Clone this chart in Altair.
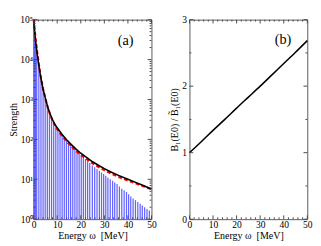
import altair as alt
import pandas as pd

# ---- data ----
bar_energy = [0.1, 0.3, 0.5, 0.7, 0.9, 1.3, 2.2, 3.1, 4.0, 4.9, 5.8, 6.7, 7.6, 8.5, 9.4,
              10.3, 11.2, 12.1, 13.0, 13.9, 14.8, 15.7, 16.6, 17.5, 18.4, 19.3, 20.2,
              21.1, 22.0, 22.9, 23.8, 24.9, 25.9, 26.9, 27.9, 28.8, 29.7, 30.6, 31.5,
              32.5, 33.5, 34.4, 35.4, 36.4, 37.4, 38.4, 39.4, 40.3, 41.2, 42.2, 43.2,
              44.2, 45.2, 46.1, 47.1, 48.1, 49.1]
bar_strength = [85000, 60000, 43000, 32000, 25000, 16000, 7000, 3300, 1750, 1080, 670, 470,
                340, 265, 215, 180, 150, 128, 112, 96, 84, 74, 65, 58, 51, 45, 40, 36, 32,
                28.5, 25.5, 22, 20, 18, 16.3, 14.8, 13.5, 12.2, 11, 10, 9.2, 8.3, 7.6, 6.6,
                5.8, 5.3, 4.8, 4.2, 3.7, 3.3, 3.0, 2.7, 2.45, 2.2, 2.0, 1.8, 1.65]

curve_energy = [0, 0.5, 1, 1.5, 2, 3, 4, 5, 6, 7, 8, 9, 10, 12, 14, 16, 18, 20, 22, 25,
                28, 30, 33, 36, 40, 43, 46, 50]
exact_strength = [100000, 45000, 24000, 14000, 8500, 3600, 1800, 1050, 640, 430, 310, 240,
                  195, 134, 98, 74, 57, 45, 37, 27.5, 21.5, 18.5, 15, 12.5, 10, 8.5, 7.2, 5.7]
approx_strength = [100000, 50000, 27000, 15500, 9300, 3800, 1850, 1050, 630, 415, 295, 225,
                   180, 122, 89, 67, 51, 40.5, 33.5, 25, 19.5, 17, 13.8, 11.5, 9.3, 8, 6.9, 5.6]

ratio_energy = [0, 5, 10, 15, 20, 25, 30, 35, 40, 45, 50]
ratio_value = [1.0, 1.165, 1.335, 1.50, 1.67, 1.835, 2.0, 2.17, 2.34, 2.51, 2.685]

x_major = [0, 10, 20, 30, 40, 50]
x_minor = [2, 4, 6, 8, 12, 14, 16, 18, 22, 24, 26, 28, 32, 34, 36, 38, 42, 44, 46, 48]
a_y_major = [1, 10, 100, 1000, 10000, 100000]
a_y_labels = ["10⁰", "10¹", "10²", "10³", "10⁴", "10⁵"]
a_y_minor = [2, 3, 4, 5, 6, 7, 8, 9,
             20, 30, 40, 50, 60, 70, 80, 90,
             200, 300, 400, 500, 600, 700, 800, 900,
             2000, 3000, 4000, 5000, 6000, 7000, 8000, 9000,
             20000, 30000, 40000, 50000, 60000, 70000, 80000, 90000]
b_y_major = [0, 1, 2, 3]
b_y_minor = [0.5, 1.5, 2.5]

W, H = 124, 210
FONT = "Liberation Serif"
MAJ, MIN = 4, 2
TICK_COLOR = "#444"

bars = pd.DataFrame({"E": bar_energy, "S": bar_strength})
exact = pd.DataFrame({"E": curve_energy, "S": exact_strength})
approx = pd.DataFrame({"E": curve_energy, "S": approx_strength})
ratio = pd.DataFrame({"E": ratio_energy, "R": ratio_value})

xs = alt.Scale(domain=[0, 50], nice=False, zero=False)
ys_a = alt.Scale(type="log", domain=[1, 100000], nice=False)
ys_b = alt.Scale(domain=[0, 3], nice=False, zero=False)

label_map = "{" + ", ".join(f"'{v}': '{t}'" for v, t in zip(a_y_major, a_y_labels)) + "}"

x_axis = alt.Axis(values=x_major, title="Energy ω\u00a0 [MeV]", ticks=False, domain=False,
                  grid=False, labelFlush=False, labelPadding=1, titlePadding=1,
                  labelOverlap=False, labelSeparation=0)
ya_axis = alt.Axis(values=a_y_major, title="Strength", ticks=False, domain=False, grid=False,
                   labelExpr=f"{label_map}[datum.value + '']", labelPadding=1, titlePadding=1,
                   labelOverlap=False)
yb_axis = alt.Axis(values=b_y_major, title="B₁(E0) / B\u0303₁(E0)", ticks=False, domain=False,
                   grid=False, labelPadding=3, titlePadding=3, format="d", labelOverlap=False)


def tick_layers(yfield, yscale, yaxis, yvals_major, yvals_minor):
    layers = []
    for vals, ln in ((x_major, MAJ), (x_minor, MIN)):
        df = pd.DataFrame({"E": vals})
        base = alt.Chart(df).mark_rule(color=TICK_COLOR, strokeWidth=1)
        layers.append(base.encode(x=alt.X("E:Q", scale=xs, axis=x_axis),
                                  y=alt.value(H), y2=alt.value(H - ln)))
        layers.append(base.encode(x=alt.X("E:Q", scale=xs, axis=x_axis),
                                  y=alt.value(0), y2=alt.value(ln)))
    for vals, ln in ((yvals_major, MAJ), (yvals_minor, MIN)):
        df = pd.DataFrame({yfield: vals})
        base = alt.Chart(df).mark_rule(color=TICK_COLOR, strokeWidth=1)
        layers.append(base.encode(y=alt.Y(f"{yfield}:Q", scale=yscale, axis=yaxis),
                                  x=alt.value(0), x2=alt.value(ln)))
        layers.append(base.encode(y=alt.Y(f"{yfield}:Q", scale=yscale, axis=yaxis),
                                  x=alt.value(W), x2=alt.value(W - ln)))
    return layers


bar_layer = alt.Chart(bars).mark_rule(color="#6464ff", strokeWidth=1.3).encode(
    x=alt.X("E:Q", scale=xs, axis=x_axis),
    y=alt.Y("S:Q", scale=ys_a, axis=ya_axis),
    y2=alt.Y2(datum=1),
)
approx_layer = alt.Chart(approx).mark_line(color="#ff0000", strokeWidth=2.2,
                                           strokeDash=[4, 2.5]).encode(
    x=alt.X("E:Q", scale=xs, axis=x_axis), y=alt.Y("S:Q", scale=ys_a, axis=ya_axis))
exact_layer = alt.Chart(exact).mark_line(color="black", strokeWidth=1.6).encode(
    x=alt.X("E:Q", scale=xs, axis=x_axis), y=alt.Y("S:Q", scale=ys_a, axis=ya_axis))
label_a = alt.Chart(pd.DataFrame({"t": ["(a)"]})).mark_text(
    font=FONT, fontSize=15, color="black").encode(
    x=alt.datum(39, scale=xs, axis=x_axis), y=alt.datum(31000, scale=ys_a, axis=ya_axis),
    text="t:N")

panel_a = alt.layer(
    bar_layer, approx_layer, exact_layer, label_a,
    *tick_layers("S", ys_a, ya_axis, a_y_major, a_y_minor)
).properties(width=W, height=H)

ratio_layer = alt.Chart(ratio).mark_line(color="black", strokeWidth=1.6,
                                         interpolate="monotone").encode(
    x=alt.X("E:Q", scale=xs, axis=x_axis),
    y=alt.Y("R:Q", scale=ys_b, axis=yb_axis),
)
label_b = alt.Chart(pd.DataFrame({"t": ["(b)"]})).mark_text(
    font=FONT, fontSize=15, color="black").encode(
    x=alt.datum(39.7, scale=xs, axis=x_axis), y=alt.datum(2.71, scale=ys_b, axis=yb_axis),
    text="t:N")

panel_b = alt.layer(
    ratio_layer, label_b,
    *tick_layers("R", ys_b, yb_axis, b_y_major, b_y_minor)
).properties(width=W, height=H)

chart = alt.hconcat(panel_a, panel_b, spacing=12).configure(
    padding={"left": 0, "top": 0, "right": 0, "bottom": 0},
    background="white",
).configure_view(
    stroke="#555", strokeWidth=1
).configure_axis(
    labelFont=FONT, labelFontSize=10, labelColor="black",
    titleFont=FONT, titleFontSize=10.5, titleFontWeight="normal", titleColor="black",
    labelOverlap=False, labelSeparation=0,
)

chart.save("out.html", embed_options={"renderer": "svg", "actions": False})
